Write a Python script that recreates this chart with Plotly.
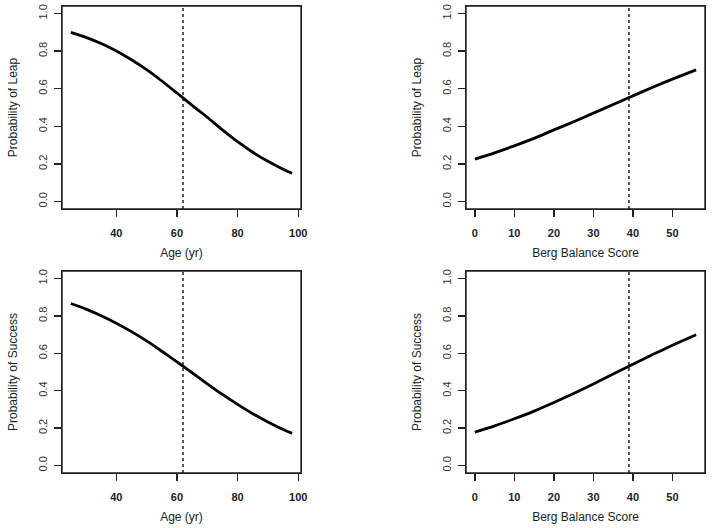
import plotly.graph_objects as go

# ---- data ----
age = [25, 30, 35, 40, 45, 50, 55, 60, 62, 65, 70, 75, 80, 85, 90, 95, 98]
leap_age = [0.900, 0.873, 0.840, 0.801, 0.754, 0.701, 0.641, 0.577, 0.551,
            0.511, 0.448, 0.381, 0.318, 0.262, 0.214, 0.172, 0.150]
success_age = [0.866, 0.836, 0.801, 0.761, 0.716, 0.666, 0.611, 0.554, 0.531,
               0.496, 0.437, 0.380, 0.327, 0.277, 0.233, 0.193, 0.172]

berg = [0, 5, 10, 15, 20, 25, 30, 35, 39, 40, 45, 50, 55, 56]
leap_berg = [0.225, 0.259, 0.296, 0.336, 0.381, 0.424, 0.470, 0.516, 0.553,
             0.562, 0.608, 0.651, 0.692, 0.700]
success_berg = [0.179, 0.212, 0.250, 0.291, 0.337, 0.385, 0.436, 0.489, 0.531,
                0.541, 0.593, 0.643, 0.690, 0.699]

age_cut = 62
berg_cut = 39

age_ticks = [40, 60, 80, 100]
berg_ticks = [0, 10, 20, 30, 40, 50]
prob_ticks = [0.0, 0.2, 0.4, 0.6, 0.8, 1.0]
prob_labels = ["0.0", "0.2", "0.4", "0.6", "0.8", "1.0"]

panels = [
    # (x, y, xlabel, ylabel, xticks, xrange, cut, xdomain, ydomain)
    (age, leap_age, "Age (yr)", "Probability of Leap", age_ticks,
     [22.08, 100.92], age_cut, [62 / 714, 301 / 714], [1 - 209 / 528, 1 - 6 / 528]),
    (berg, leap_berg, "Berg Balance Score", "Probability of Leap", berg_ticks,
     [-2.24, 58.24], berg_cut, [466 / 714, 705 / 714], [1 - 209 / 528, 1 - 6 / 528]),
    (age, success_age, "Age (yr)", "Probability of Success", age_ticks,
     [22.08, 100.92], age_cut, [62 / 714, 301 / 714], [1 - 473 / 528, 1 - 271 / 528]),
    (berg, success_berg, "Berg Balance Score", "Probability of Success", berg_ticks,
     [-2.24, 58.24], berg_cut, [466 / 714, 705 / 714], [1 - 473 / 528, 1 - 271 / 528]),
]

FONT = "Liberation Sans, Arial, sans-serif"
fig = go.Figure()
layout = dict(
    width=714, height=528,
    margin=dict(l=0, r=0, t=0, b=0),
    paper_bgcolor="white", plot_bgcolor="white",
    showlegend=False,
    font=dict(family=FONT, color="#222"),
)

for i, (xs, ys, xl, yl, xt, xr, cut, xd, yd) in enumerate(panels, start=1):
    sx = "" if i == 1 else str(i)
    fig.add_trace(go.Scatter(
        x=xs, y=ys, mode="lines", xaxis="x" + sx, yaxis="y" + sx,
        line=dict(color="black", width=2.8, shape="spline", smoothing=0.6),
        hoverinfo="skip",
    ))
    fig.add_shape(type="line", xref="x" + sx, yref="y" + sx + " domain",
                  x0=cut, x1=cut, y0=0, y1=1,
                  line=dict(color="black", width=1.3, dash="dot"))
    # box frame around the plotting region
    fig.add_shape(type="rect", xref="x" + sx + " domain", yref="y" + sx + " domain",
                  x0=0, x1=1, y0=0, y1=1,
                  line=dict(color="#222", width=1.4), fillcolor="rgba(0,0,0,0)")
    layout["xaxis" + sx] = dict(
        domain=xd, anchor="y" + sx, range=xr,
        tickmode="array", tickvals=xt, ticktext=[str(v) for v in xt],
        ticks="outside", ticklen=7, tickwidth=1.3, tickcolor="#222",
        ticklabelstandoff=6,
        tickfont=dict(family=FONT, size=11, color="#222", weight="bold"),
        showline=True, mirror=True, linecolor="#222", linewidth=1.3,
        showgrid=False, zeroline=False, automargin=False, fixedrange=True,
        title=dict(text=xl, standoff=11, font=dict(family=FONT, size=12, color="#222")),
    )
    layout["yaxis" + sx] = dict(
        domain=yd, anchor="x" + sx, range=[-0.04, 1.04],
        tickmode="array", tickvals=prob_ticks, ticktext=prob_labels,
        tickangle=-90,
        ticks="outside", ticklen=7, tickwidth=1.3, tickcolor="#222",
        ticklabelstandoff=2,
        tickfont=dict(family=FONT, size=11, color="#333"),
        showline=True, mirror=True, linecolor="#222", linewidth=1.3,
        showgrid=False, zeroline=False, automargin=False, fixedrange=True,
        title=dict(text=yl, standoff=17, font=dict(family=FONT, size=12, color="#222")),
    )

fig.update_layout(**layout)
fig.write_html("out.html",
               config={"displayModeBar": False, "staticPlot": True},
               post_script="document.body.style.margin='0';document.body.style.padding='0';")
